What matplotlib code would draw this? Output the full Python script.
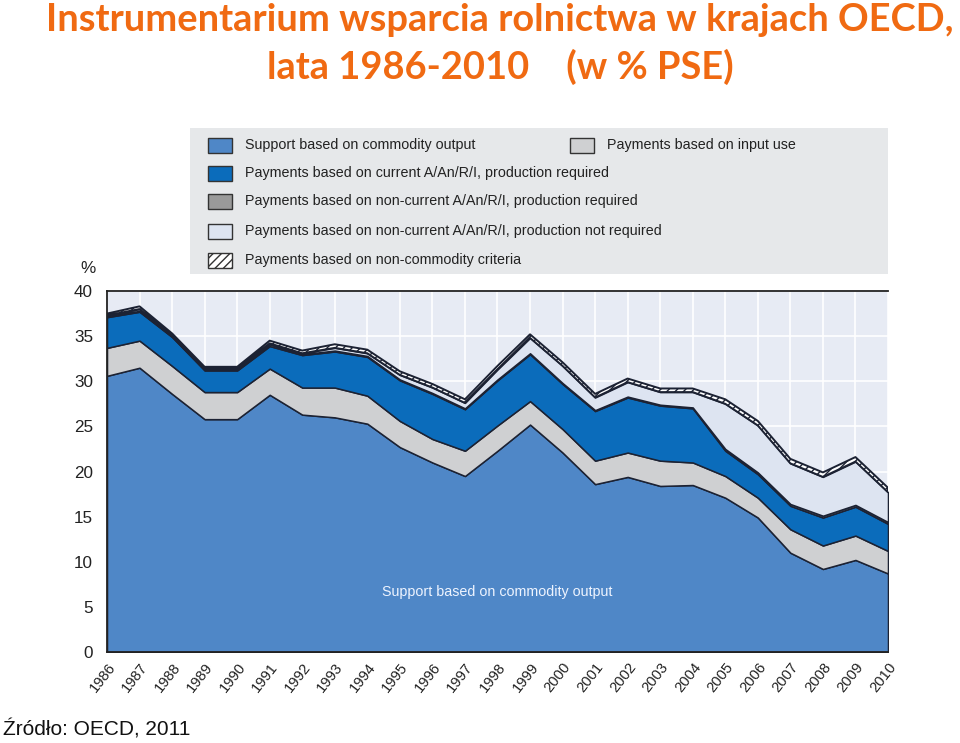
import numpy as np
import matplotlib
matplotlib.use("Agg")
import matplotlib.pyplot as plt
from matplotlib.patches import Rectangle
from matplotlib import font_manager

years = np.arange(1986, 2011)

# % of PSE (stacked from the bottom)
commodity = [30.6, 31.5, 28.6, 25.8, 25.8, 28.5, 26.3, 26.0, 25.3, 22.7, 21.0, 19.5, 22.3,
             25.2, 22.1, 18.6, 19.4, 18.4, 18.5, 17.1, 14.9, 11.0, 9.2, 10.2, 8.7]
input_use = [3.1, 3.0, 3.1, 3.0, 3.0, 2.9, 3.0, 3.3, 3.1, 2.9, 2.6, 2.8, 2.8,
             2.6, 2.6, 2.6, 2.7, 2.8, 2.5, 2.4, 2.2, 2.6, 2.6, 2.7, 2.5]
current_req = [3.4, 3.2, 3.2, 2.4, 2.4, 2.5, 3.6, 4.0, 4.3, 4.5, 5.0, 4.6, 5.0,
               5.2, 5.0, 5.5, 6.1, 6.1, 6.0, 2.8, 2.6, 2.6, 3.1, 3.2, 3.0]
noncur_req = [0.1, 0.1, 0.1, 0.1, 0.1, 0.2, 0.1, 0.1, 0.1, 0.1, 0.1, 0.1, 0.1,
              0.1, 0.1, 0.1, 0.1, 0.1, 0.1, 0.2, 0.2, 0.2, 0.2, 0.2, 0.2]
noncur_notreq = [0.1, 0.2, 0.1, 0.1, 0.1, 0.1, 0.1, 0.3, 0.3, 0.5, 0.6, 0.6, 1.1,
                 1.7, 1.9, 1.4, 1.6, 1.4, 1.7, 5.0, 5.2, 4.5, 4.3, 4.8, 3.3]
noncommodity = [0.2, 0.3, 0.2, 0.2, 0.2, 0.3, 0.3, 0.4, 0.4, 0.4, 0.4, 0.4, 0.4,
                0.4, 0.4, 0.4, 0.4, 0.4, 0.4, 0.5, 0.5, 0.5, 0.5, 0.5, 0.5]

labels = ["Support based on commodity output",
          "Payments based on input use",
          "Payments based on current A/An/R/I, production required",
          "Payments based on non-current A/An/R/I, production required",
          "Payments based on non-current A/An/R/I, production not required",
          "Payments based on non-commodity criteria"]
colors = ["#4f87c7", "#cfd0d2", "#0b6cbb", "#9a9a9a", "#dde4f1", "#ffffff"]
hatches = [None, None, None, None, None, "////"]

# narrow font if there is one, else Arial-like at a smaller size
installed = {f.name for f in font_manager.fontManager.ttflist}
if "Liberation Sans Narrow" in installed:
    narrow, nscale = ["Liberation Sans Narrow", "DejaVu Sans"], 1.0
else:
    narrow, nscale = ["Liberation Sans", "DejaVu Sans"], 0.82
edge = "#1c2233"
plt.rcParams["hatch.color"] = "#222222"

fig = plt.figure(figsize=(9.6, 7.43), dpi=100)

# title
fig.text(0.521, 1 - 3 / 743, "Instrumentarium wsparcia rolnictwa w krajach OECD,\nlata 1986-2010    (w % PSE)",
         ha="center", va="top", fontsize=27.4, fontweight="bold", color="#f06a12",
         family=["Lato", "DejaVu Sans"], linespacing=1.38)

# main plot
ax = fig.add_axes([107 / 960, 1 - 652 / 743, 781 / 960, 361 / 743])
ax.set_facecolor("#e7ebf4")
polys = ax.stackplot(years, commodity, input_use, current_req, noncur_req, noncur_notreq,
                     noncommodity, colors=colors, edgecolor=edge, linewidth=1.1, zorder=3)
polys[-1].set_hatch("////")
polys[-1].set_linewidth(1.4)

ax.set_xlim(1986, 2010)
ax.set_ylim(0, 40)
ax.set_xticks(years)
ax.set_yticks(np.arange(0, 41, 5))
ax.grid(True, color="white", linewidth=1.2, zorder=1)
ax.set_axisbelow(True)
ax.tick_params(axis="both", direction="in", color="white", length=5, width=1.2)
ax.tick_params(axis="y", pad=10)
ax.tick_params(axis="x", pad=6)
ax.set_xticklabels([str(y) for y in years], rotation=52, ha="right", rotation_mode="anchor",
                   family=narrow, fontsize=13 * nscale, color="#222222")
for t in ax.get_yticklabels():
    t.set_family(narrow)
    t.set_fontsize(15 * nscale)
    t.set_color("#222222")
for s in ax.spines.values():
    s.set_color("#222222")
    s.set_linewidth(1.3)
    s.set_zorder(5)
ax.spines["right"].set_visible(False)

ax.text(0.5, 0.166, "Support based on commodity output", transform=ax.transAxes, ha="center",
        va="center", color="#eef4ff", fontsize=12.5 * nscale, family=narrow, zorder=6)
fig.text(88 / 960, 1 - 268 / 743, "%", ha="center", va="center", fontsize=15 * nscale,
         family=narrow, color="#222222")

# legend panel
leg = fig.add_axes([190 / 960, 1 - 274 / 743, 698 / 960, 146 / 743])
leg.set_xlim(190, 888)
leg.set_ylim(274, 128)
leg.set_facecolor("#e6e8ea")
leg.set_xticks([])
leg.set_yticks([])
for s in leg.spines.values():
    s.set_visible(False)

entries = [(0, 208, 145), (1, 570, 145), (2, 208, 173), (3, 208, 201), (4, 208, 231), (5, 208, 260)]
for i, x0, y0 in entries:
    leg.add_patch(Rectangle((x0, y0 - 7.5), 24, 15, facecolor=colors[i], edgecolor="#333333",
                            linewidth=1, hatch=hatches[i]))
    leg.text(x0 + 37, y0, labels[i], ha="left", va="center", fontsize=12.5 * nscale,
             family=narrow, color="#222222")

fig.text(3 / 960, 1 - 729 / 743, "Źródło: OECD, 2011", ha="left", va="center", fontsize=15,
         family=["Liberation Sans", "DejaVu Sans"], color="#111111")

fig.savefig("out.png", dpi=100)
